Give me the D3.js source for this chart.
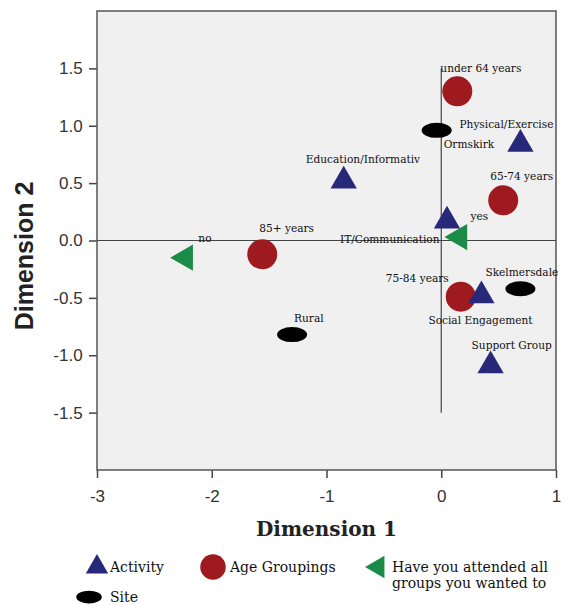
<!DOCTYPE html>
<html>
<head>
<meta charset="utf-8">
<script src="https://cdn.jsdelivr.net/npm/d3@7"></script>
<style>
  body { margin: 0; background: #fff; }
  svg { display: block; }
</style>
</head>
<body>
<div id="chart"></div>
<script>
// categories (point labels) and their group
const labels = ["no", "yes", "85+ years", "under 64 years", "65-74 years", "75-84 years",
  "Education/Informativ", "Physical/Exercise", "IT/Communication", "Social Engagement", "Support Group",
  "Rural", "Ormskirk", "Skelmersdale"];
const groups = ["attended", "attended", "age", "age", "age", "age",
  "activity", "activity", "activity", "activity", "activity",
  "site", "site", "site"];
// coordinates
const dim1 = [-2.23, 0.16, -1.56, 0.14, 0.54, 0.17, -0.85, 0.69, 0.05, 0.35, 0.43, -1.30, -0.04, 0.69];
const dim2 = [-0.15, 0.03, -0.12, 1.30, 0.35, -0.49, 0.52, 0.84, 0.17, -0.48, -1.09, -0.82, 0.96, -0.42];
const xTicks = [-3, -2, -1, 0, 1];
const yTicks = [-1.5, -1.0, -0.5, 0.0, 0.5, 1.0, 1.5];

const legendItems = [
  {group: "activity", text: ["Activity"]},
  {group: "age", text: ["Age Groupings"]},
  {group: "attended", text: ["Have you attended all", "groups you wanted to"]},
  {group: "site", text: ["Site"]}
];

// label placement (pixel offsets from the marker)
const labelOffset = {
  "no": [13, -16], "yes": [11, -17], "85+ years": [-3, -22], "under 64 years": [-17, -19],
  "65-74 years": [-13, -20], "75-84 years": [-75, -15], "Education/Informativ": [-38, -18],
  "Physical/Exercise": [-61, -16], "IT/Communication": [-107, 22], "Social Engagement": [-53, 28],
  "Support Group": [-19, -17], "Rural": [2, -13], "Ormskirk": [7, 18], "Skelmersdale": [-35, -13]
};

const colors = {activity: "#27287a", age: "#9e1a1e", attended: "#1b8c47", site: "#000"};

const W = 566, H = 605;
const margin = {top: 11, left: 97};
const pw = 459, ph = 459;

const svg = d3.select("#chart").append("svg").attr("width", W).attr("height", H);
const g = svg.append("g").attr("transform", `translate(${margin.left},${margin.top})`);

const x = d3.scaleLinear().domain([-3, 1]).range([0, pw]);
const y = d3.scaleLinear().domain([-2, 2]).range([ph, 0]);

g.append("rect").attr("width", pw).attr("height", ph).attr("fill", "#f0f0f0");

// reference lines
g.append("line").attr("x1", x(-3)).attr("x2", x(1)).attr("y1", y(0)).attr("y2", y(0))
  .attr("stroke", "#444").attr("stroke-width", 1.2);
g.append("line").attr("x1", x(0)).attr("x2", x(0)).attr("y1", y(1.5)).attr("y2", y(-1.5))
  .attr("stroke", "#444").attr("stroke-width", 1.2);

// AXES (plain hyphen for negatives, as in the original)
const hy = f => d => f(d).replace("\u2212", "-");
const xAxis = d3.axisBottom(x).tickValues(xTicks).tickSize(8).tickSizeOuter(0).tickFormat(hy(d3.format("d")));
const yAxis = d3.axisLeft(y).tickValues(yTicks).tickSize(8).tickSizeOuter(0).tickFormat(hy(d3.format(".1f")));

g.append("g").attr("transform", `translate(0,${ph})`).call(xAxis)
  .call(a => a.select(".domain").remove())
  .call(a => a.selectAll("text").attr("dy", "1.25em"));
g.append("g").call(yAxis)
  .call(a => a.select(".domain").remove())
  .call(a => a.selectAll("text").attr("dx", "-0.2em"));
g.selectAll(".tick line").attr("stroke", "#444").attr("stroke-width", 1.5);
g.selectAll(".tick text").attr("fill", "#333")
  .style("font-family", "Arial, 'Liberation Sans', sans-serif").style("font-size", "17px");

// frame
g.append("rect").attr("width", pw).attr("height", ph).attr("fill", "none")
  .attr("stroke", "#555").attr("stroke-width", 1.5);

// axis titles
svg.append("text")
  .attr("transform", `translate(33,256) rotate(-90)`)
  .attr("text-anchor", "middle")
  .style("font-family", "Arial, 'Liberation Sans', sans-serif")
  .style("font-weight", "bold").style("font-size", "25px").attr("fill", "#222")
  .text("Dimension 2");
svg.append("text")
  .attr("x", margin.left + pw / 2).attr("y", 536)
  .attr("text-anchor", "middle")
  .style("font-family", "'DejaVu Serif', serif")
  .style("font-weight", "bold").style("font-size", "20px").attr("fill", "#222")
  .text("Dimension 1");

function drawMarker(sel, group, scale) {
  const s = scale || 1;
  if (group === "age") {
    sel.append("circle").attr("r", 15 * s).attr("fill", colors.age);
  } else if (group === "site") {
    sel.append("ellipse").attr("rx", 15 * s).attr("ry", 7.5 * s).attr("fill", colors.site);
  } else if (group === "activity") {
    sel.append("path").attr("d", d3.symbol(d3.symbolTriangle, 300 * s * s)()).attr("fill", colors.activity);
  } else {
    sel.append("path").attr("d", d3.symbol(d3.symbolTriangle, 300 * s * s)())
      .attr("transform", "rotate(-90)").attr("fill", colors.attended);
  }
}

const pts = labels.map((l, i) => ({label: l, group: groups[i], d1: dim1[i], d2: dim2[i]}));

const nodes = g.selectAll(".pt").data(pts).enter().append("g")
  .attr("class", "pt")
  .attr("transform", d => `translate(${x(d.d1)},${y(d.d2)})`);
nodes.each(function (d) { drawMarker(d3.select(this), d.group); });
nodes.append("text")
  .attr("x", d => labelOffset[d.label][0])
  .attr("y", d => labelOffset[d.label][1])
  .style("font-family", "'DejaVu Serif', serif").style("font-size", "10.6px").attr("fill", "#111")
  .text(d => d.label);

// legend
const legendPos = {activity: [97, 567], age: [213, 567], attended: [378, 567], site: [89, 597]};
const legendText = {activity: [110, 572], age: [230, 572], attended: [392, 572], site: [110, 602]};
legendItems.forEach(item => {
  const p = legendPos[item.group];
  const m = svg.append("g").attr("transform", `translate(${p[0]},${p[1]})`);
  drawMarker(m, item.group, 0.85);
  const t = svg.append("text")
    .attr("x", legendText[item.group][0]).attr("y", legendText[item.group][1])
    .style("font-family", "'DejaVu Serif', serif").style("font-size", "14px").attr("fill", "#111");
  item.text.forEach((line, k) => {
    t.append("tspan").attr("x", legendText[item.group][0]).attr("dy", k === 0 ? 0 : 16).text(line);
  });
});
</script>
</body>
</html>
